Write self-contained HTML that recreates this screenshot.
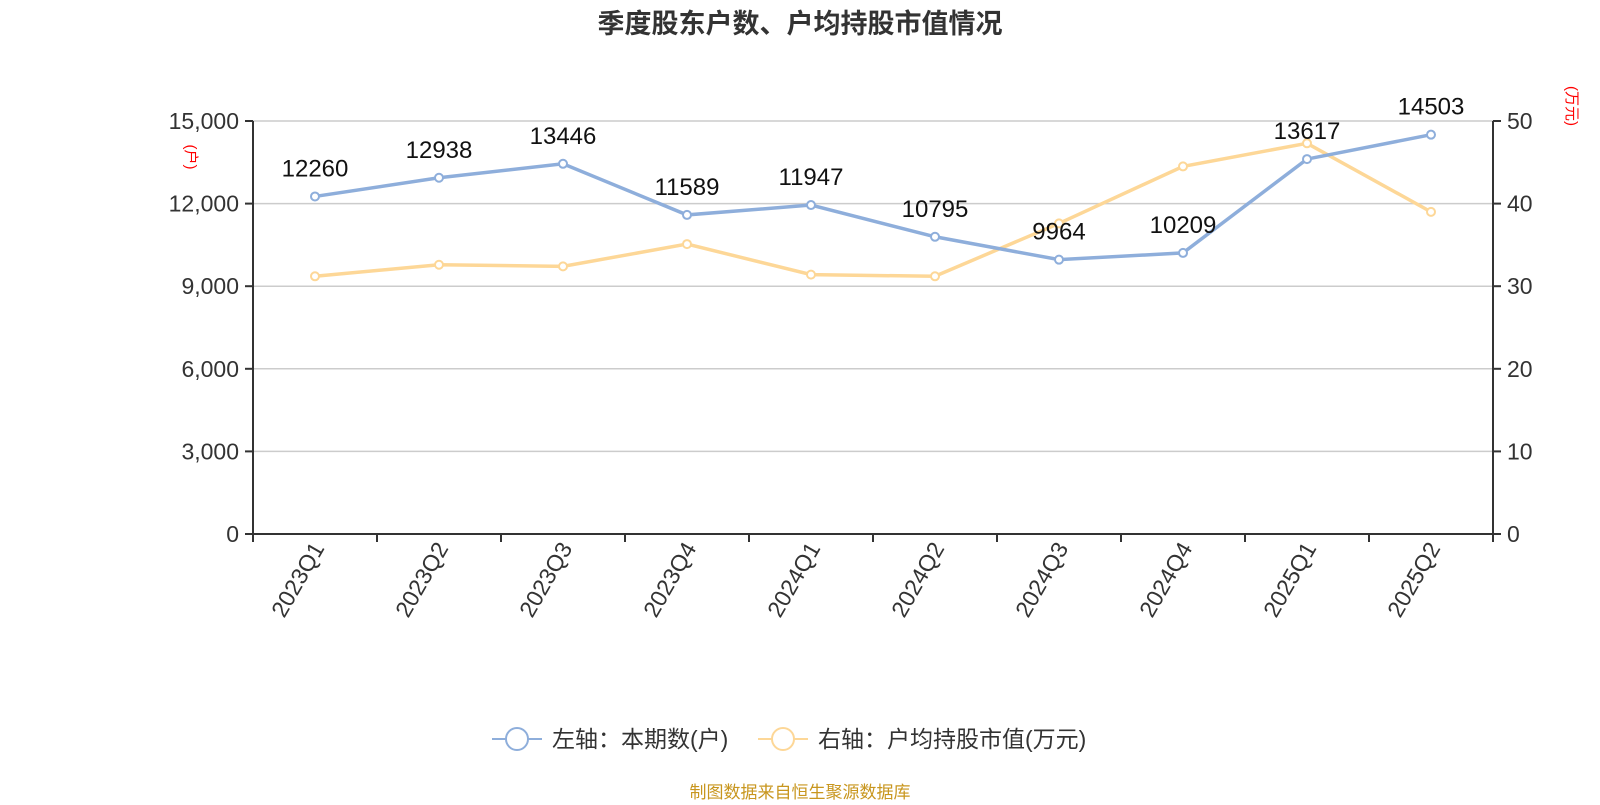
<!DOCTYPE html>
<html><head><meta charset="utf-8"><style>
body{margin:0;background:#fff;width:1600px;height:800px;overflow:hidden;font-family:"Liberation Sans","Noto Sans CJK SC",sans-serif}
</style></head><body>
<svg id="c" width="1600" height="800" font-family="Liberation Sans, Noto Sans CJK SC, sans-serif"></svg>
<script>
const categories=["2023Q1","2023Q2","2023Q3","2023Q4","2024Q1","2024Q2","2024Q3","2024Q4","2025Q1","2025Q2"];
const holders=[12260,12938,13446,11589,11947,10795,9964,10209,13617,14503];
const avgValue=[31.2,32.6,32.4,35.1,31.4,31.2,37.6,44.5,47.3,39.0];
const leftTicks=[0,3000,6000,9000,12000,15000];
const rightTicks=[0,10,20,30,40,50];
const svg=document.getElementById('c');const NS='http://www.w3.org/2000/svg';
function mk(t,a,p,txt){const e=document.createElementNS(NS,t);for(const k in a)e.setAttribute(k,a[k]);if(txt!==undefined)e.textContent=txt;(p||svg).appendChild(e);return e;}
const L=253,R=1493,T=121,B=534,bw=(R-L)/categories.length;
const x=i=>L+bw*(i+0.5);const yl=v=>B-(v/15000)*(B-T);const yr=v=>B-(v/50)*(B-T);
let e;
e=mk('text',{x:800,y:33,'text-anchor':'middle','font-size':27,'font-weight':'bold',fill:'#333'},null,'季度股东户数、户均持股市值情况');

leftTicks.forEach(v=>{
 e=mk('line',{x1:L,x2:R,y1:yl(v),y2:yl(v),stroke:'#ccc','stroke-width':1.5});
 mk('line',{x1:L-8,x2:L,y1:yl(v),y2:yl(v),stroke:'#333','stroke-width':2});
 e=mk('text',{x:L-14,y:yl(v)+8,'text-anchor':'end','font-size':23,fill:'#333'},null,v.toLocaleString('en-US'));
});
rightTicks.forEach(v=>{
 mk('line',{x1:R,x2:R+8,y1:yr(v),y2:yr(v),stroke:'#333','stroke-width':2});
 e=mk('text',{x:R+14,y:yr(v)+8,'font-size':23,fill:'#333'},null,String(v));
});
mk('line',{x1:L,x2:L,y1:T,y2:B,stroke:'#333','stroke-width':2});
mk('line',{x1:R,x2:R,y1:T,y2:B,stroke:'#333','stroke-width':2});
mk('line',{x1:L,x2:R,y1:B,y2:B,stroke:'#333','stroke-width':2});
for(let i=0;i<=categories.length;i++)mk('line',{x1:L+bw*i,x2:L+bw*i,y1:B,y2:B+8,stroke:'#333','stroke-width':2});
categories.forEach((c,i)=>{e=mk('text',{x:x(i)+10,y:B+14,'text-anchor':'end','font-size':23,fill:'#333',transform:`rotate(-60 ${x(i)+10} ${B+14})`},null,c);});
e=mk('text',{x:0,y:0,'font-size':15,fill:'red',transform:'translate(186,157) rotate(90)','text-anchor':'middle'},null,'(户)');
e=mk('text',{x:0,y:0,'font-size':15,fill:'red',transform:'translate(1567,106) rotate(90)','text-anchor':'middle'},null,'(万元)');
function series(vals,yf,col,name,labels){
 e=mk('polyline',{points:vals.map((v,i)=>x(i)+','+yf(v)).join(' '),fill:'none',stroke:col,'stroke-width':3.5});
 vals.forEach((v,i)=>{e=mk('circle',{cx:x(i),cy:yf(v),r:4,fill:'#fff',stroke:col,'stroke-width':2});
  if(labels){e=mk('text',{x:x(i),y:yf(v)-20,'text-anchor':'middle','font-size':24,fill:'#111'},null,String(v));}});
}
series(avgValue,yr,'#fdd797','avg-value',false);
series(holders,yl,'#8eaedb','holders',true);
e=mk('g',{});
mk('line',{x1:492,x2:542,y1:739,y2:739,stroke:'#8eaedb','stroke-width':2},e);mk('circle',{cx:517,cy:739,r:11,fill:'#fff',stroke:'#8eaedb','stroke-width':2},e);
mk('text',{x:552,y:747,'font-size':23,fill:'#333'},e,'左轴：本期数(户)');
e=mk('g',{});
mk('line',{x1:758,x2:808,y1:739,y2:739,stroke:'#fdd797','stroke-width':2},e);mk('circle',{cx:783,cy:739,r:11,fill:'#fff',stroke:'#fdd797','stroke-width':2},e);
mk('text',{x:818,y:747,'font-size':23,fill:'#333'},e,'右轴：户均持股市值(万元)');
e=mk('text',{x:800,y:798,'text-anchor':'middle','font-size':17,fill:'#c8961e'},null,'制图数据来自恒生聚源数据库');
</script>
</body></html>
